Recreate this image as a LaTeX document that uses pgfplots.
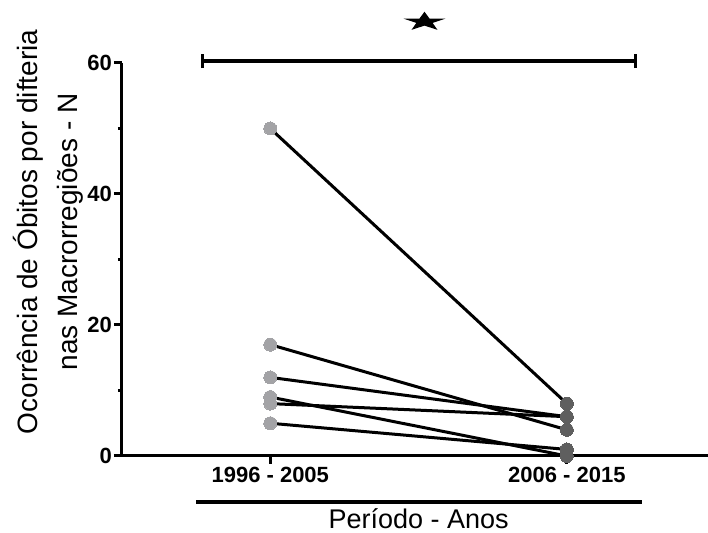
\documentclass[border=0pt]{standalone}
\usepackage{pgfplots}
\pgfplotsset{compat=1.18}
\usepackage{fontspec}
\setmainfont{Liberation Sans}

\definecolor{dotA}{RGB}{163,163,166}
\definecolor{dotB}{RGB}{95,95,95}

% flattened five-pointed star for the significance marker
\pgfdeclareplotmark{widestar}{%
  \pgftransformxscale{2.2}%
  \pgfpathmoveto{\pgfpointpolar{90}{10pt}}%
  \pgfpathlineto{\pgfpointpolar{126}{3.9pt}}%
  \pgfpathlineto{\pgfpointpolar{162}{10pt}}%
  \pgfpathlineto{\pgfpointpolar{198}{3.9pt}}%
  \pgfpathlineto{\pgfpointpolar{234}{10pt}}%
  \pgfpathlineto{\pgfpointpolar{270}{3.9pt}}%
  \pgfpathlineto{\pgfpointpolar{306}{10pt}}%
  \pgfpathlineto{\pgfpointpolar{342}{3.9pt}}%
  \pgfpathlineto{\pgfpointpolar{18}{10pt}}%
  \pgfpathlineto{\pgfpointpolar{54}{3.9pt}}%
  \pgfpathclose
  \pgfusepathqfill
}

\begin{document}
\begin{tikzpicture}
\begin{axis}[
  name=ax,
  scale only axis,
  width=586pt, height=393pt,
  xmin=-0.5, xmax=1.476,
  ymin=0, ymax=60,
  enlargelimits=false,
  clip=false,
  axis lines=left,
  axis line style={-, line width=3pt, black},
  tick align=outside,
  tick pos=left,
  xtick={0,1},
  xticklabels={1996 - 2005, 2006 - 2015},
  ytick={0,20,40,60},
  minor ytick={10,30,50},
  major tick length=8pt,
  minor tick length=4pt,
  every major tick/.append style={line width=3pt, black},
  every minor tick/.append style={line width=2.5pt, black},
  /pgf/number format/assume math mode=true,
  tick label style={font=\fontsize{22}{26}\selectfont\bfseries},
  yticklabel style={inner xsep=2pt},
  xticklabel style={inner ysep=3pt},
]

% start of each pair (1996 - 2005)
\addplot[only marks, draw=none, fill=dotA, mark=*, mark size=6.5pt,
  mark options={draw=dotA, fill=dotA, line width=0pt}]
  coordinates {(0,50) (0,17) (0,12) (0,9) (0,8) (0,5)};
% end of each pair (2006 - 2015)
\addplot[only marks, draw=none, fill=dotB, mark=*, mark size=6.5pt,
  mark options={draw=dotB, fill=dotB, line width=0pt}]
  coordinates {(1,8) (1,4) (1,6) (1,0) (1,6) (1,1)};

% paired lines, one per macro-region
\addplot[black, line width=3pt, mark=none] coordinates {(0,50) (1,8)};
\addplot[black, line width=3pt, mark=none] coordinates {(0,17) (1,4)};
\addplot[black, line width=3pt, mark=none] coordinates {(0,12) (1,6)};
\addplot[black, line width=3pt, mark=none] coordinates {(0,9) (1,0)};
\addplot[black, line width=3pt, mark=none] coordinates {(0,8) (1,6)};
\addplot[black, line width=3pt, mark=none] coordinates {(0,5) (1,1)};

% significance bracket and star
\addplot[black, line width=3.5pt, mark=none] coordinates {(-0.23,60.3) (1.23,60.3)};
\addplot[black, line width=3pt, mark=none] coordinates {(-0.23,59.2) (-0.23,61.4)};
\addplot[black, line width=3pt, mark=none] coordinates {(1.23,59.2) (1.23,61.4)};
\addplot[only marks, mark=widestar, black] coordinates {(0.52,66.3)};

% group line and axis titles
\draw[line width=4pt] (axis cs:-0.249,-6.98) -- (axis cs:1.255,-6.98);
\node[font=\fontsize{27}{31}\selectfont] at (axis cs:0.5,-9.55) {Período - Anos};
\node[rotate=90, align=center, font=\fontsize{28}{40}\selectfont]
  at (axis cs:-0.748,34.2) {Ocorrência de Óbitos por difteria\\nas Macrorregiões - N};
\end{axis}
\pgfresetboundingbox
\path[use as bounding box] ([xshift=-122pt,yshift=-77pt]ax.south west) rectangle ([yshift=63pt]ax.north east);
\end{tikzpicture}
\end{document}
